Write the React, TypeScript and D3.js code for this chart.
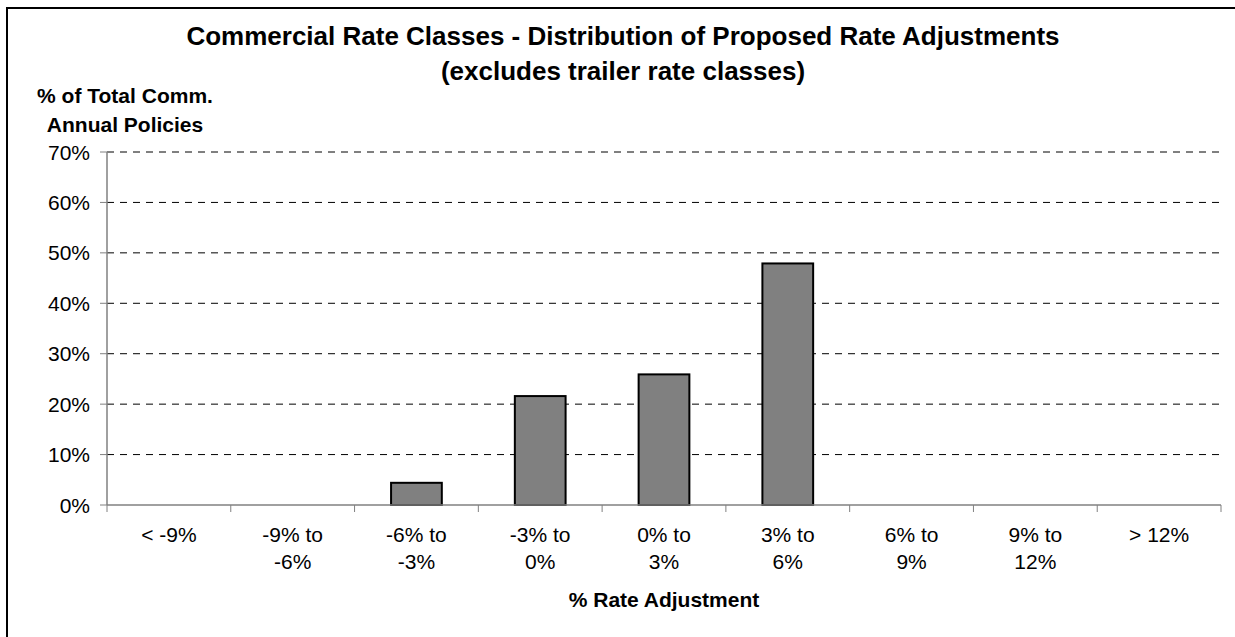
import React from "react";
import * as d3 from "d3";

// Distribution of proposed rate adjustments across commercial rate classes
const categoryLines: string[][] = [
  ["< -9%"],
  ["-9% to", "-6%"],
  ["-6% to", "-3%"],
  ["-3% to", "0%"],
  ["0% to", "3%"],
  ["3% to", "6%"],
  ["6% to", "9%"],
  ["9% to", "12%"],
  ["> 12%"],
];
const categories: string[] = categoryLines.map((l) => l.join(" "));
const shareOfPolicies: number[] = [0, 0, 4.4, 21.6, 25.9, 47.9, 0, 0, 0];
const yTicks: number[] = [0, 10, 20, 30, 40, 50, 60, 70];

const titleLines = [
  "Commercial Rate Classes - Distribution of Proposed Rate Adjustments",
  "(excludes trailer rate classes)",
];
const yTitleLines = ["% of Total Comm.", "Annual Policies"];
const xTitle = "% Rate Adjustment";

const W = 1235;
const H = 637;
const plot = { left: 107, right: 1221, top: 152, bottom: 505 };
const FONT = "Liberation Sans, Arial, sans-serif";

export default function App() {
  const x = d3
    .scaleBand<string>()
    .domain(categories)
    .range([plot.left, plot.right])
    .paddingInner(0)
    .paddingOuter(0);
  const y = d3.scaleLinear().domain([0, 70]).range([plot.bottom, plot.top]);
  const bw = x.bandwidth();
  const barW = bw * 0.41;

  const tickEdges = categories.map((c) => x(c) as number).concat([plot.right]);

  return (
    <svg
      width={W}
      height={H}
      style={{ position: "absolute", left: 0, top: 0, background: "#fff" }}
      fontFamily={FONT}
    >
      <rect x={0} y={0} width={W} height={H} fill="#fff" />
      {/* chart frame */}
      <rect x={7} y={8} width={W + 20} height={H + 20} fill="none" stroke="#000" strokeWidth={2} />

      {/* title */}
      {titleLines.map((t, i) => (
        <text
          key={t}
          x={623}
          y={45 + i * 35}
          textAnchor="middle"
          fontSize={26}
          fontWeight="bold"
          fill="#000"
        >
          {t}
        </text>
      ))}

      {/* y-axis title */}
      {yTitleLines.map((t, i) => (
        <text
          key={t}
          x={125}
          y={103 + i * 29}
          textAnchor="middle"
          fontSize={21}
          fontWeight="bold"
          fill="#000"
        >
          {t}
        </text>
      ))}

      {/* gridlines */}
      {yTicks
        .filter((v) => v > 0)
        .map((v) => (
          <line
            key={"g" + v}
            x1={plot.left}
            x2={plot.right}
            y1={y(v)}
            y2={y(v)}
            stroke="#000"
            strokeWidth={1}
            strokeDasharray="7,6"
          />
        ))}

      {/* y ticks and labels */}
      {yTicks.map((v) => (
        <g key={"y" + v}>
          <line x1={plot.left - 7} x2={plot.left} y1={y(v)} y2={y(v)} stroke="#808080" strokeWidth={1} />
          <text x={90} y={y(v) + 7.5} textAnchor="end" fontSize={21} fill="#000">
            {v}%
          </text>
        </g>
      ))}

      {/* bars */}
      {categories.map((c, i) =>
        shareOfPolicies[i] > 0 ? (
          <rect
            key={"b" + c}
            x={(x(c) as number) + (bw - barW) / 2}
            y={y(shareOfPolicies[i])}
            width={barW}
            height={plot.bottom - y(shareOfPolicies[i])}
            fill="#808080"
            stroke="#000"
            strokeWidth={2}
          />
        ) : null
      )}

      {/* axes */}
      <line x1={plot.left} x2={plot.left} y1={plot.top} y2={plot.bottom} stroke="#808080" strokeWidth={1.5} />
      <line x1={plot.left} x2={plot.right} y1={plot.bottom} y2={plot.bottom} stroke="#808080" strokeWidth={1.5} />
      {tickEdges.map((t, i) => (
        <line key={"xt" + i} x1={t} x2={t} y1={plot.bottom} y2={plot.bottom + 7} stroke="#808080" strokeWidth={1} />
      ))}

      {/* category labels */}
      {categories.map((c, i) => (
        <text key={"xl" + c} textAnchor="middle" fontSize={21} fill="#000">
          {categoryLines[i].map((line, j) => (
            <tspan key={j} x={(x(c) as number) + bw / 2} y={542 + j * 27}>
              {line}
            </tspan>
          ))}
        </text>
      ))}

      {/* x-axis title */}
      <text x={664} y={607} textAnchor="middle" fontSize={21} fontWeight="bold" fill="#000">
        {xTitle}
      </text>
    </svg>
  );
}
